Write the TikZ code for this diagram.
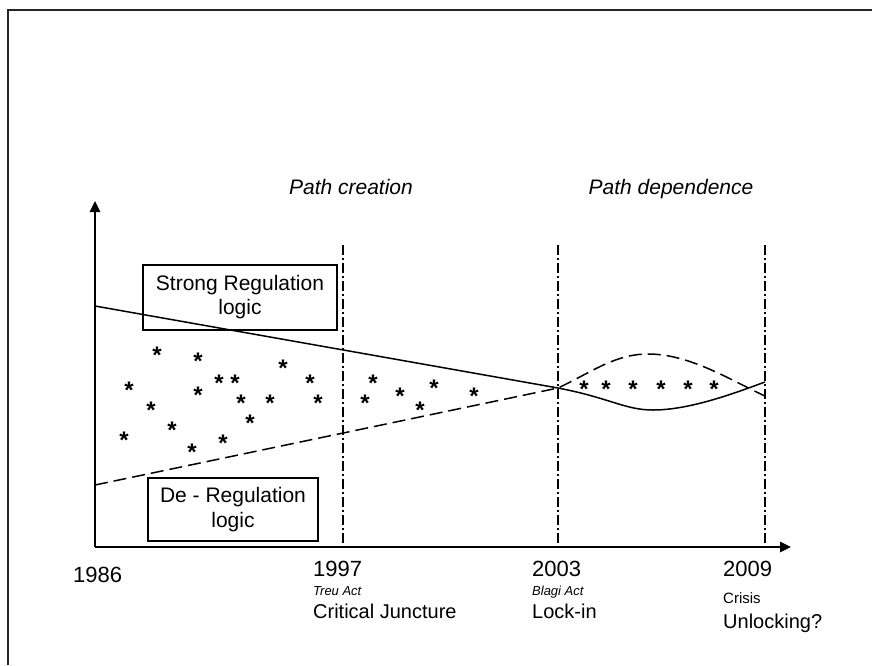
\documentclass[tikz,border=0pt]{standalone}
\usepackage{fontspec}
\setmainfont{Liberation Sans}
\usetikzlibrary{arrows.meta}
\begin{document}
\begin{tikzpicture}[x=1pt,y=-1pt,
axis/.style={line width=2.5pt,-{Triangle[length=11pt,width=10pt]}},
juncture/.style={line width=1.2pt,dash pattern=on 10pt off 3pt on 2pt off 3pt},
logic/.style={line width=1.5pt},
logicbox/.style={draw,line width=1.4pt,align=center,inner sep=0pt},
spot/.style={anchor=base,inner sep=0pt,font=\fontsize{24}{24}\selectfont\bfseries,yshift=-14pt},
year/.style={anchor=base west,inner sep=0pt,font=\fontsize{22}{22}\selectfont},
act/.style={anchor=base west,inner sep=0pt,font=\fontsize{13}{13}\selectfont\itshape},
phase/.style={anchor=base west,inner sep=0pt,font=\fontsize{20}{20}\selectfont},
period/.style={anchor=base,inner sep=0pt,font=\fontsize{21}{21}\selectfont\itshape}]
\useasboundingbox (0,0) rectangle (872,665);
\draw[line width=2.5pt,black!85] (8,665) -- (8,10) -- (872,10);
% axes
\coordinate (origin) at (95,547);
\coordinate (ytop) at (95,201);
\coordinate (xend) at (791,547);
\draw[axis] (origin) -- (ytop);
\draw[axis] (origin) -- (xend);
% junctures
\foreach \vx/\yr in {343/1997,558/2003,765/2009} {
\coordinate (top\yr) at (\vx,245);
\coordinate (foot\yr) at (\vx,547);
\draw[juncture] (top\yr) -- (foot\yr);
}
\node[period] (creation) at (351,194) {Path creation};
\node[period] (dependence) at (671,194) {Path dependence};
% logics
\draw[logic] (95,306) -- (558,388) .. controls (610,398) and (625,410) .. (653,410) .. controls (690,410) and (735,393) .. (765,382);
\draw[logic,dash pattern=on 13pt off 6pt] (95,485) -- (558,388) .. controls (592,372) and (615,354) .. (648,354) .. controls (690,354) and (730,380) .. (765,396);
\node[logicbox,minimum width=194pt,minimum height=65pt,font=\fontsize{21}{24}\selectfont] (strong) at (240,297.5) {Strong Regulation\\logic};
\node[logicbox,minimum width=170pt,minimum height=63pt,font=\fontsize{21}{25}\selectfont] (dereg) at (233,509.5) {De - Regulation\\logic};
% stars
\foreach \sx/\sy [count=\i] in {157/349,198/355,283/362,129/384,198/389,219/377,235/377,310/377,373/377,151/404,241/397,270/397,318/397,365/397,172/424,250/417,124/434,192/446,223/437,400/390,434/382,420/404,474/390,584/383,606/383,633/383,661/383,688/383,714/383} {
\node[spot] (star\i) at (\sx,\sy) {*};
}
% labels
\node[year] (y1986) at (73,582) {1986};
\node[year] (y1997) at (313,576) {1997};
\node[year] (y2003) at (532,576) {2003};
\node[year] (y2009) at (723,576) {2009};
\node[act] (treu) at (313,595) {Treu Act};
\node[act] (blagi) at (532,595) {Blagi Act};
\node[phase] (critical) at (313,618) {Critical Juncture};
\node[phase] (lockin) at (532,618) {Lock-in};
\node[anchor=base west,inner sep=0pt,font=\fontsize{15}{15}\selectfont] (crisis) at (723,603) {Crisis};
\node[phase] (unlocking) at (723,628.5) {Unlocking?};
\end{tikzpicture}
\end{document}
